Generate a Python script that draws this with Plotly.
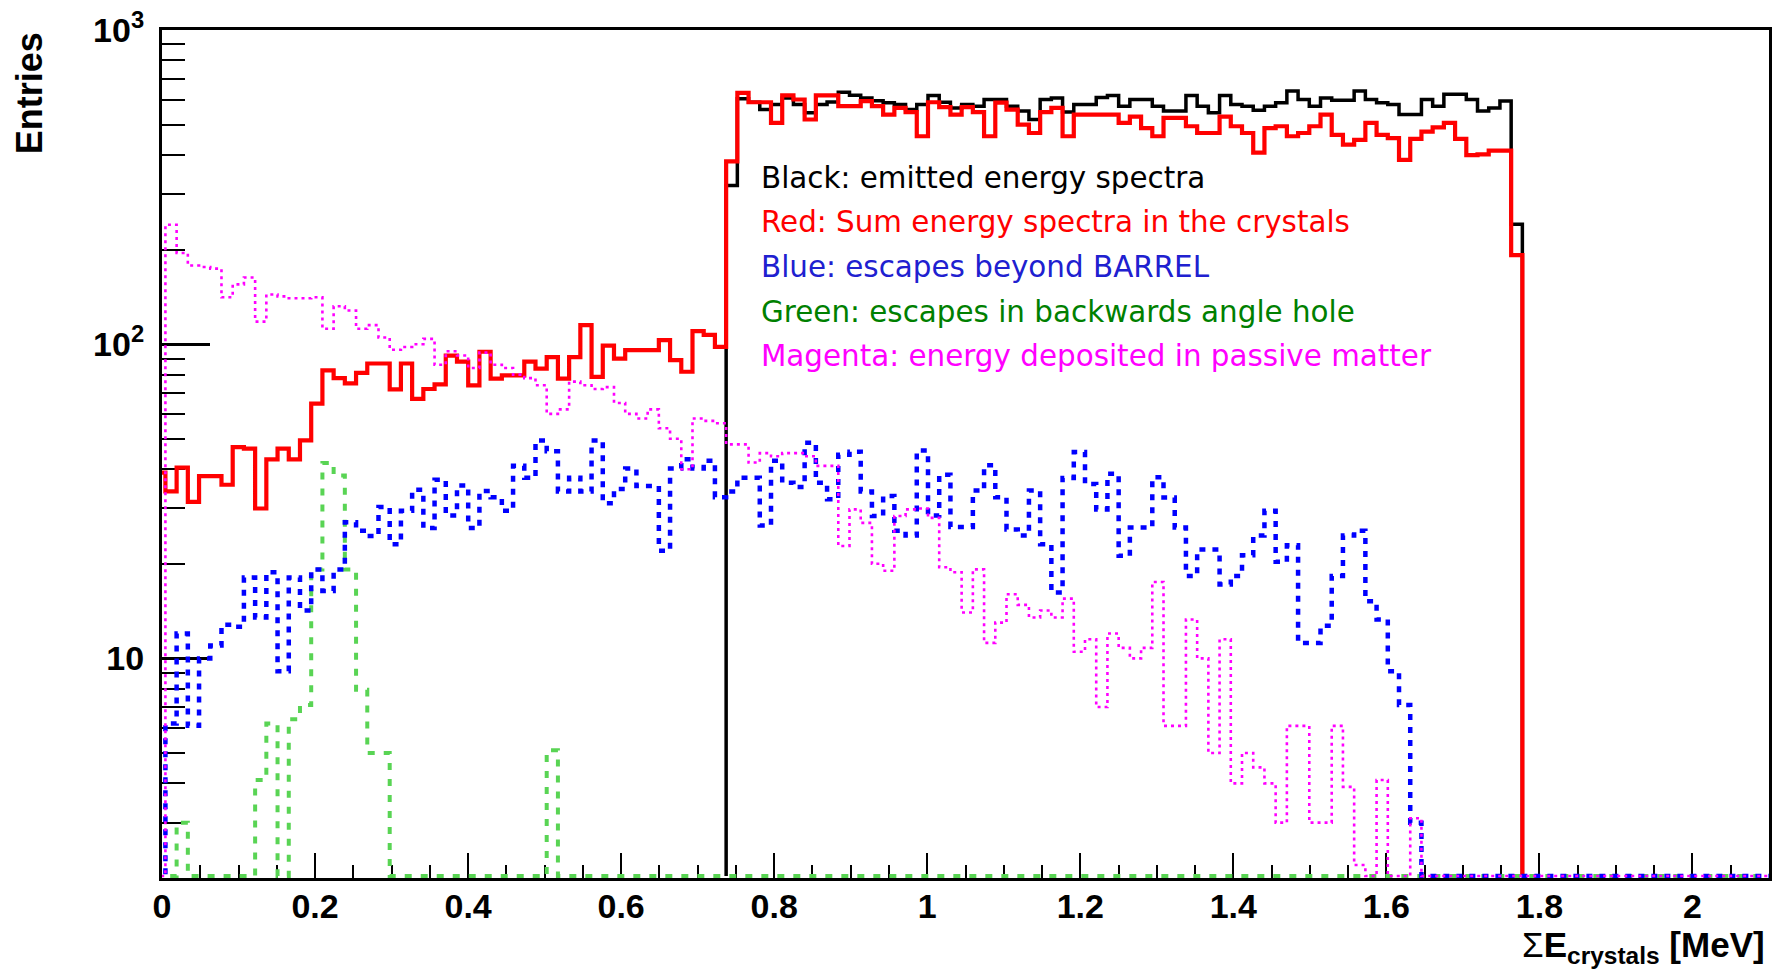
import math
import plotly.graph_objects as go

# ---------------- data ----------------
# Histogram binning (MeV): first bin is only partly visible at the left edge
EDGE0 = -0.0102
BIN_W = 0.014655
N_BINS = 144

black_emitted = [
    0, 0, 0, 0, 0, 0, 0, 0, 0, 0,
    0, 0, 0, 0, 0, 0, 0, 0, 0, 0,
    0, 0, 0, 0, 0, 0, 0, 0, 0, 0,
    0, 0, 0, 0, 0, 0, 0, 0, 0, 0,
    0, 0, 0, 0, 0, 0, 0, 0, 0, 0,
    0, 320,
    604, 589, 558, 579, 608, 579, 545, 579, 590, 634,
    620, 608, 595, 587, 579, 558, 579, 619, 589, 565,
    579, 572, 601, 601, 572, 552, 519, 601, 608, 548,
    579, 579, 610, 619, 572, 601, 601, 572, 552, 552,
    619, 572, 545, 619, 579, 572, 555, 572, 587, 639,
    601, 572, 608, 598, 598, 639, 601, 587, 579, 538,
    538, 601, 572, 624, 624, 601, 552, 565, 594, 241,
    0, 0, 0, 0, 0, 0, 0, 0, 0, 0, 0,
    0, 0, 0, 0, 0, 0, 0, 0, 0, 0, 0,
]

red_crystals = [
    39, 34, 40.5, 31.5, 38, 38, 35.7, 47, 46.5, 30,
    43, 46.5, 43, 49.4, 64.7, 82.6, 78, 75, 81, 86.8,
    86.8, 71.8, 86.8, 67, 72, 74.5, 92, 88, 74, 94.6,
    77.7, 79.6, 79.6, 88, 83.6, 91, 77.7, 91, 115, 78.7,
    99, 90, 95.7, 95.7, 95.7, 103, 89, 81.7, 110, 107,
    98, 382,
    631, 589, 589, 506, 619, 601, 519, 619, 619, 572,
    572, 594, 572, 538, 565, 548, 459, 589, 568, 538,
    568, 548, 459, 587, 558, 500, 470, 548, 565, 459,
    538, 538, 538, 538, 506, 530, 487, 459, 525, 525,
    494, 470, 470, 530, 494, 470, 407, 487, 494, 459,
    470, 494, 538, 464, 432, 447, 506, 464, 453, 386,
    450, 475, 490, 506, 450, 400, 402, 413, 413, 192,
    0, 0, 0, 0, 0, 0, 0, 0, 0, 0, 0,
    0, 0, 0, 0, 0, 0, 0, 0, 0, 0, 0,
]

blue_barrel = [
    0, 6.2, 12, 6.1, 10, 11, 12.8, 12.6, 18.1, 13.5,
    18.8, 9.1, 18.1, 14.2, 19.2, 16.4, 19.2, 27.1, 25.5, 24.5,
    30.3, 23.1, 29.5, 34.4, 26, 37, 28.5, 35.5, 26, 34.1,
    32.6, 29.5, 41, 37.6, 49.4, 45.6, 34, 37.6, 34, 49.4,
    31.2, 34.6, 40.2, 35.4, 35.4, 22, 40.2, 43, 40.2, 42.6,
    32.6, 34, 37.6, 37.6, 26.5, 42.6, 36.2, 35.1, 48.6, 36.2,
    32.1, 44.5, 45.5, 34, 28.4, 32.9, 25.5, 24.6, 45.9, 28.5,
    38.4, 26.2, 26.2, 34.2, 41.2, 32.6, 25.7, 24.6, 34.2, 23.1,
    16.2, 37.5, 45.4, 35.9, 29.8, 38.7, 21.2, 26.1, 26.1, 37.7,
    32.5, 26.1, 18.3, 22.2, 22.2, 17.2, 18.3, 21.3, 24.6, 29.5,
    20.3, 22.9, 11.2, 11.2, 12.7, 18.3, 24.6, 25.5, 15.2, 13.3,
    9.1, 7.1, 3.0,
    0, 0, 0, 0, 0, 0, 0, 0, 0, 0,
    0, 0, 0, 0, 0, 0, 0, 0, 0, 0,
    0, 0, 0, 0, 0, 0, 0, 0, 0, 0, 0,
]

green_hole = [
    0, 0, 3.0, 0, 0, 0, 0, 0, 0, 4.1,
    6.2, 0, 6.4, 7.1, 19.2, 41.9, 38.2, 19.2, 7.95, 5.0,
    5.0, 0, 0, 0, 0, 0, 0, 0, 0, 0,
    0, 0, 0, 0, 0, 5.1,
    0, 0, 0, 0, 0, 0, 0, 0, 0, 0, 0, 0,
    0, 0, 0, 0, 0, 0, 0, 0, 0, 0, 0, 0,
    0, 0, 0, 0, 0, 0, 0, 0, 0, 0, 0, 0,
    0, 0, 0, 0, 0, 0, 0, 0, 0, 0, 0, 0,
    0, 0, 0, 0, 0, 0, 0, 0, 0, 0, 0, 0,
    0, 0, 0, 0, 0, 0, 0, 0, 0, 0, 0, 0,
    0, 0, 0, 0, 0, 0, 0, 0, 0, 0, 0, 0,
    0, 0, 0, 0, 0, 0, 0, 0, 0, 0, 0, 0,
    0, 0, 0, 0, 0, 0, 0, 0, 0, 0, 0, 0,
]

magenta_passive = [
    0, 240, 195, 178, 176, 174, 141, 155, 163, 118,
    144, 142, 140, 140, 141, 112, 132, 128, 112, 115,
    105, 96, 98, 100, 104, 86, 95, 92, 84, 94,
    86, 84, 80, 78, 74, 60, 62, 76, 74, 72,
    73, 65, 60, 58, 62, 54, 50, 40, 58, 57,
    56, 48, 48, 42, 45, 44, 45, 45, 44, 41,
    41, 22.8, 29.8, 27, 20, 19, 28.4, 29.8, 30, 28,
    19.5, 18.8, 14, 19.2, 11.2, 13, 16, 14.8, 13.5, 14.2,
    13.5, 15.5, 10.5, 11.5, 7.0, 12, 10.8, 10, 10.8, 17.5,
    6.1, 6.1, 13.3, 10, 5.0, 11.5, 4.0, 5.0, 4.5, 4.0,
    3.0, 6.1, 6.1, 3.0, 3.0, 6.1, 3.9, 2.2, 2.0, 4.1,
    2.0, 0, 3.1,
    0, 0, 0, 0, 0, 0, 0, 0, 0, 0,
    0, 0, 0, 0, 0, 0, 0, 0, 0, 0,
    0, 0, 0, 0, 0, 0, 0, 0, 0, 0, 0,
]

legend_lines = [
    "Black: emitted energy spectra",
    "Red: Sum energy spectra in the crystals",
    "Blue: escapes beyond BARREL",
    "Green: escapes in backwards angle hole",
    "Magenta: energy deposited in passive matter",
]
legend_colors = ["#000000", "#ff0000", "#2020d0", "#008000", "#ff00ff"]

x_tick_vals = [0, 0.2, 0.4, 0.6, 0.8, 1.0, 1.2, 1.4, 1.6, 1.8, 2.0]
x_tick_text = ["0", "0.2", "0.4", "0.6", "0.8", "1", "1.2", "1.4", "1.6", "1.8", "2"]
y_tick_vals = [10, 100, 1000]
y_tick_text = ["10", "10<sup>2</sup>", "10<sup>3</sup>"]

X_RANGE = [0, 2.1]
Y_MIN, Y_MAX = 2.0, 1000.0

# ---------------- helpers ----------------
edges = [EDGE0 + BIN_W * i for i in range(N_BINS + 1)]
FLOOR = Y_MIN * 1.015   # zero bins drawn on the frame bottom (ROOT style)


def full_step(vals):
    ys = [max(v, FLOOR) for v in vals]
    return edges[:], ys + [ys[-1]]


def trimmed_step(vals):
    nz = [i for i, v in enumerate(vals) if v > 0]
    a, b = nz[0], nz[-1]
    xs = [edges[a]] + edges[a:b + 1] + [edges[b + 1], edges[b + 1]]
    ys = [FLOOR] + [max(v, FLOOR) for v in vals[a:b + 1]] + [max(vals[b], FLOOR), FLOOR]
    return xs, ys


fig = go.Figure()

series = [
    (black_emitted, trimmed_step, dict(color="#000000", width=3.5)),
    (red_crystals, trimmed_step, dict(color="#ff0000", width=4.2)),
    (green_hole, full_step, dict(color="#59d454", width=4, dash="7px,9px")),
    (blue_barrel, full_step, dict(color="#0000ff", width=4.5, dash="6px,7px")),
    (magenta_passive, full_step, dict(color="#ff00ff", width=2.6, dash="3px,4px")),
]
for vals, fn, line in series:
    xs, ys = fn(vals)
    fig.add_trace(go.Scatter(x=xs, y=ys, mode="lines", line=dict(shape="hv", **line),
                             hoverinfo="skip", showlegend=False))

TICK_FONT = dict(family="Liberation Sans, Arial, sans-serif", size=34, color="#000000", weight="bold")

fig.update_layout(
    width=1777, height=969,
    margin=dict(l=162, r=5, t=30, b=91),
    paper_bgcolor="white", plot_bgcolor="white",
    xaxis=dict(
        range=X_RANGE, showgrid=False, zeroline=False,
        showline=True, linecolor="#000000", linewidth=3, mirror=True,
        ticks="inside", ticklen=25, tickwidth=2, tickcolor="#000000",
        tickmode="array", tickvals=x_tick_vals, ticktext=x_tick_text,
        tickfont=TICK_FONT, ticklabelstandoff=-4,
        minor=dict(ticks="inside", ticklen=13, tickwidth=2, tickcolor="#000000", dtick=0.05, tick0=0),
        layer="below traces",
    ),
    yaxis=dict(
        type="log", range=[math.log10(Y_MIN), math.log10(Y_MAX)],
        showgrid=False, zeroline=False,
        showline=True, linecolor="#000000", linewidth=3, mirror=True,
        ticks="inside", ticklen=48, tickwidth=2.5, tickcolor="#000000",
        tickmode="array", tickvals=y_tick_vals, ticktext=y_tick_text,
        tickfont=TICK_FONT, ticklabelstandoff=8,
        minor=dict(ticks="inside", ticklen=23, tickwidth=2, tickcolor="#000000",
                   tickmode="array",
                   tickvals=[3, 4, 5, 6, 7, 8, 9, 20, 30, 40, 50, 60, 70, 80, 90,
                             200, 300, 400, 500, 600, 700, 800, 900]),
        layer="below traces",
    ),
)

# Legend-like coloured text lines
legend_y_px = [178, 222, 267, 312, 356]
for txt, col, ypx in zip(legend_lines, legend_colors, legend_y_px):
    fig.add_annotation(
        x=(760 - 162) / 1610, y=(878 - ypx) / 848, xref="paper", yref="paper",
        xanchor="left", yanchor="middle", showarrow=False, text=txt,
        font=dict(family="DejaVu Sans, Verdana, sans-serif", size=29.4, color=col),
    )

# Axis titles
fig.add_annotation(
    x=(29 - 162) / 1610, y=(878 - 93) / 848, xref="paper", yref="paper",
    xanchor="center", yanchor="middle", showarrow=False, textangle=-90,
    text="Entries",
    font=dict(family="Liberation Sans, Arial, sans-serif", size=36, color="#000000", weight="bold"),
)
fig.add_annotation(
    x=(1770 - 162) / 1610, y=(878 - 923) / 848, xref="paper", yref="paper",
    xanchor="right", yanchor="top", showarrow=False,
    text="<span style='font-weight:normal'>\u03a3</span>E<sub>crystals</sub> [MeV]",
    font=dict(family="Liberation Sans, Arial, sans-serif", size=35, color="#000000", weight="bold"),
)

fig.write_html("out.html")
